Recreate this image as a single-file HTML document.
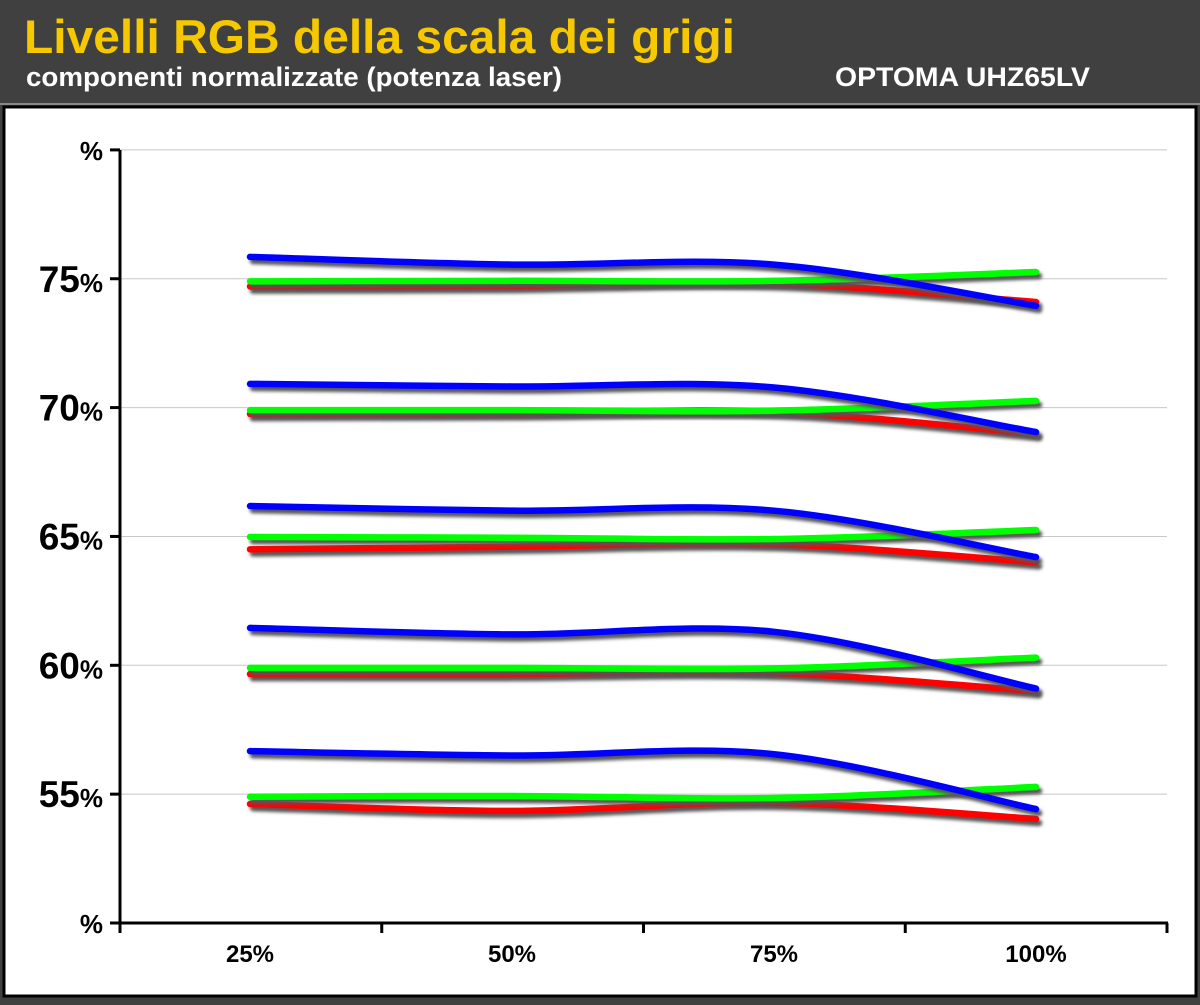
<!DOCTYPE html>
<html><head><meta charset="utf-8"><style>
body{margin:0;width:1200px;height:1000px;background:#404040;overflow:hidden;font-family:"Liberation Sans",sans-serif}
</style></head><body>
<svg width="1200" height="1000" xmlns="http://www.w3.org/2000/svg">
<defs><filter id="sh" x="-5%" y="-50%" width="110%" height="200%"><feGaussianBlur stdDeviation="1.5"/></filter></defs>
<rect x="0" y="0" width="1200" height="104" fill="#404040"/>
<line x1="0" y1="104" x2="1200" y2="104" stroke="#888" stroke-width="2"/>
<rect x="4" y="107" width="1192" height="889" fill="#fff" stroke="#000" stroke-width="3"/>
<text x="24" y="53" font-size="47" font-weight="bold" fill="#f5c800" textLength="711" lengthAdjust="spacingAndGlyphs">Livelli RGB della scala dei grigi</text>
<text x="26" y="86" font-size="27" font-weight="bold" fill="#fff" textLength="536" lengthAdjust="spacingAndGlyphs">componenti normalizzate (potenza laser)</text>
<text x="835" y="86" font-size="27" font-weight="bold" fill="#fff" textLength="255" lengthAdjust="spacingAndGlyphs">OPTOMA UHZ65LV</text>
<g id="grid"></g><g id="axes"></g><g id="series"></g>
</svg>
<script>
const categories=["25%","50%","75%","100%"];
const yTicks=[55,60,65,70,75];
const blue=[[56.67,56.5,56.55,54.42],[61.45,61.2,61.3,59.1],[66.18,66.0,66.0,64.2],[70.92,70.82,70.78,69.05],[75.85,75.55,75.55,73.95]];
const green=[[54.9,54.93,54.85,55.28],[59.9,59.9,59.88,60.3],[64.98,64.95,64.9,65.25],[69.9,69.9,69.88,70.26],[74.9,74.92,74.92,75.26]];
const red=[[54.62,54.35,54.66,54.04],[59.66,59.66,59.7,59.0],[64.5,64.6,64.7,64.0],[69.75,69.78,69.83,68.98],[74.7,74.72,74.82,74.1]];
const NS="http://www.w3.org/2000/svg";
const y=v=>923-(v-50)*25.77;
const x=i=>250+i*262;
function mk(tag,attrs,parent){const e=document.createElementNS(NS,tag);for(const k in attrs)e.setAttribute(k,attrs[k]);document.getElementById(parent).appendChild(e);return e;}
[80,...yTicks].forEach(v=>{const l=mk('line',{x1:120,x2:1167,y1:y(v),y2:y(v),stroke:'#c8c8c8','stroke-width':1},'grid');

});
const ya=mk('line',{x1:120,x2:120,y1:150,y2:924,stroke:'#000','stroke-width':3},'axes');


const xa=mk('line',{x1:118,x2:1168,y1:923,y2:923,stroke:'#000','stroke-width':3},'axes');


[50,80,...yTicks].forEach(v=>{mk('line',{x1:110,x2:120,y1:y(v),y2:y(v),stroke:'#000','stroke-width':3},'axes');
const t=mk('text',{x:103,y:y(v)+10,'text-anchor':'end','font-weight':'bold','font-size':26},'axes');


if(v===50||v===80){t.textContent='%';}else{t.innerHTML='<tspan font-size="37">'+v+'</tspan>%';t.setAttribute('y',y(v)+13);}});
for(let i=0;i<5;i++){mk('line',{x1:120+i*261.75,x2:120+i*261.75,y1:923,y2:933,stroke:'#000','stroke-width':3},'axes');}
categories.forEach((c,i)=>{const t=mk('text',{x:x(i),y:962,'text-anchor':'middle','font-weight':'bold','font-size':24},'axes');


t.textContent=c;});
function path(vals,dx,dy){const p=vals.map((v,i)=>[x(i)+dx,y(v)+dy]);let d='M'+p[0][0]+','+p[0][1];
for(let i=0;i<p.length-1;i++){const p0=p[i-1]||p[i],p1=p[i],p2=p[i+1],p3=p[i+2]||p2;
const c1=[p1[0]+(p2[0]-p0[0])/6,p1[1]+(p2[1]-p0[1])/6],c2=[p2[0]-(p3[0]-p1[0])/6,p2[1]-(p3[1]-p1[1])/6];
d+=' C'+c1+' '+c2+' '+p2;}return d;}
function draw(arr,color,name){arr.forEach(vals=>{
const s=mk('path',{d:path(vals,3,4),fill:'none',stroke:'#555','stroke-width':6.5,'stroke-linecap':'round',filter:'url(#sh)'},'series');


const l=mk('path',{d:path(vals,0,0),fill:'none',stroke:color,'stroke-width':6.5,'stroke-linecap':'round'},'series');

});}
draw(red,'#ff0000','red');draw(green,'#00ff00','green');draw(blue,'#0000ff','blue');
</script>
</body></html>
